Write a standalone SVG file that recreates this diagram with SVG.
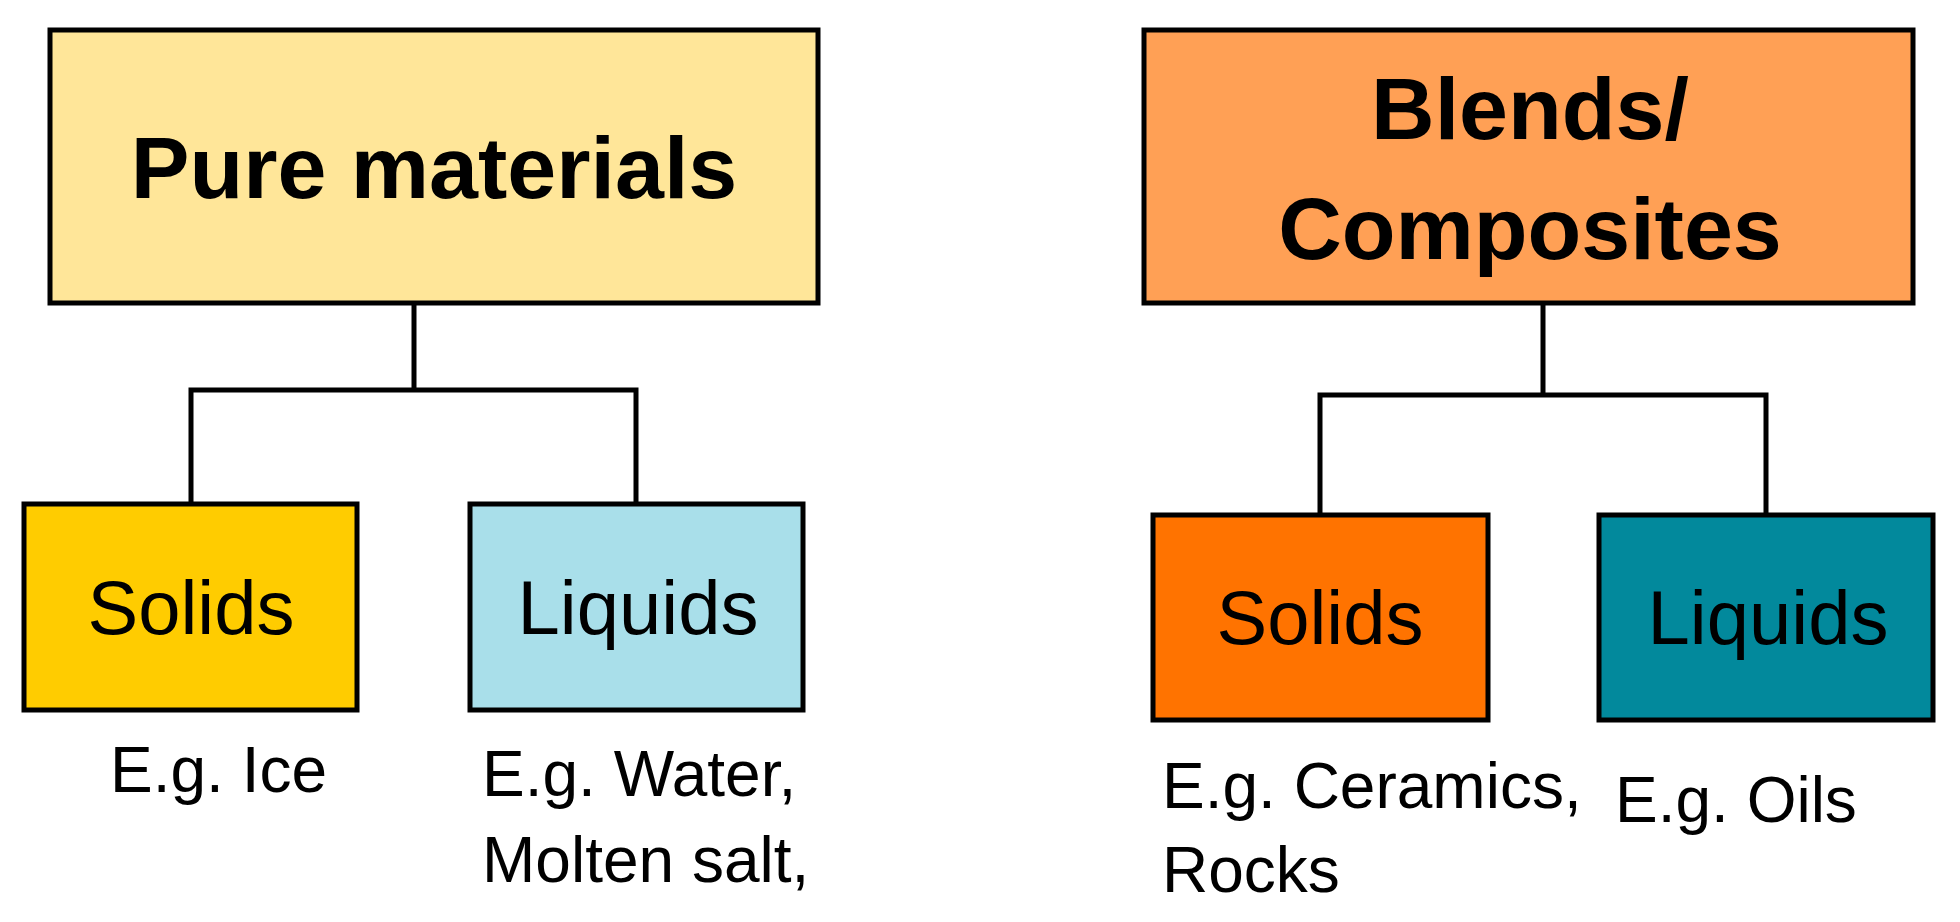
<svg xmlns="http://www.w3.org/2000/svg" width="1960" height="922" viewBox="0 0 1960 922">
<style>
rect{stroke:#000;stroke-width:5}
text{font-family:"Liberation Sans",Arial,sans-serif;fill:#000}
.h{font-weight:bold;font-size:88px;text-anchor:middle}
.m{font-size:76px;text-anchor:middle}
.s{font-size:64px}
#conn path{fill:none;stroke:#000;stroke-width:5}
</style>
<rect width="1960" height="922" fill="#fff" style="stroke:none"/>
<g id="conn">
<path d="M414 303V390M191 504V390H636V504"/>
<path d="M1543 303V395M1320 515V395H1766V515"/>
</g>
<g id="pure"><rect x="50" y="30" width="768" height="273" fill="#FFE699"/><text class="h" x="434" y="198">Pure materials</text></g>
<g id="solids1"><rect x="24" y="504" width="333" height="206" fill="#FFCC00"/><text class="m" x="191" y="634">Solids</text></g>
<g id="liquids1"><rect x="470" y="504" width="333" height="206" fill="#A9DFEA"/><text class="m" x="638" y="634">Liquids</text></g>
<text class="s" x="110" y="792">E.g. Ice</text>
<text class="s" x="482" y="796">E.g. Water,</text>
<text class="s" x="482" y="882">Molten salt,</text>
<g id="blends"><rect x="1144" y="30" width="769" height="273" fill="#FFA055"/><text class="h" x="1530" y="139">Blends/</text><text class="h" x="1530" y="259">Composites</text></g>
<g id="solids2"><rect x="1153" y="515" width="335" height="205" fill="#FF7300"/><text class="m" x="1320" y="644">Solids</text></g>
<g id="liquids2"><rect x="1599" y="515" width="334" height="205" fill="#02899C"/><text class="m" x="1768" y="644">Liquids</text></g>
<text class="s" x="1162" y="808">E.g. Ceramics,</text>
<text class="s" x="1162" y="892">Rocks</text>
<text class="s" x="1615" y="822">E.g. Oils</text>
</svg>
